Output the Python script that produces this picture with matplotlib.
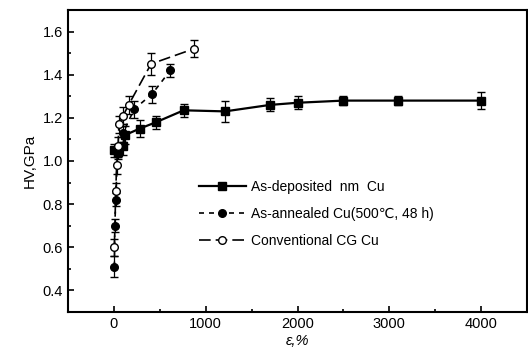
import matplotlib
matplotlib.use("Agg")
import matplotlib.pyplot as plt
from matplotlib.ticker import MultipleLocator

plt.rcParams["font.family"] = ["Liberation Sans", "DejaVu Sans"]

# As-deposited nm Cu
dep_x = [0, 50, 100, 120, 280, 460, 760, 1210, 1700, 2000, 2500, 3100, 4000]
dep_y = [1.05, 1.04, 1.07, 1.12, 1.15, 1.18, 1.235, 1.23, 1.26, 1.27, 1.28, 1.28, 1.28]
dep_err = [0.03, 0.03, 0.04, 0.04, 0.04, 0.03, 0.03, 0.05, 0.03, 0.03, 0.02, 0.02, 0.04]

# As-annealed Cu (500C, 48 h)
ann_x = [5, 10, 20, 40, 100, 220, 415, 615]
ann_y = [0.51, 0.70, 0.82, 1.05, 1.13, 1.24, 1.31, 1.42]
ann_err = [0.05, 0.03, 0.03, 0.03, 0.04, 0.04, 0.04, 0.03]

# Conventional CG Cu
cg_x = [5, 20, 30, 45, 55, 100, 160, 405, 870]
cg_y = [0.60, 0.86, 0.98, 1.07, 1.17, 1.21, 1.26, 1.45, 1.52]
cg_err = [0.04, 0.04, 0.04, 0.04, 0.04, 0.04, 0.04, 0.05, 0.04]

fig = plt.figure(figsize=(5.28, 3.62), dpi=100)
ax = fig.add_axes([68 / 528, 50 / 362, 459 / 528, 302 / 362])

e1 = ax.errorbar(dep_x, dep_y, yerr=dep_err, color="black", lw=1.6, marker="s", ms=5.5,
                 capsize=3, elinewidth=0.9)
e2 = ax.errorbar(ann_x, ann_y, yerr=ann_err, color="black", lw=1.2, ls=(0, (3, 3)),
                 marker="o", ms=5.5, capsize=3, elinewidth=0.9)
e3 = ax.errorbar(cg_x, cg_y, yerr=cg_err, color="black", lw=1.2, ls=(0, (7, 3)),
                 marker="o", ms=5.5, mfc="white", capsize=3, elinewidth=0.9)

ax.set_xlim(-500, 4500)
ax.set_ylim(0.3, 1.7)
ax.xaxis.set_major_locator(MultipleLocator(1000))
ax.xaxis.set_minor_locator(MultipleLocator(500))
ax.yaxis.set_major_locator(MultipleLocator(0.2))
ax.yaxis.set_minor_locator(MultipleLocator(0.1))
ax.tick_params(which="both", direction="in", labelsize=10.5, width=1.2)
ax.tick_params(which="major", length=4)
ax.tick_params(which="minor", length=2.5)
for s in ax.spines.values():
    s.set_linewidth(1.5)

ax.set_xlabel("\u03b5,%", style="italic", fontsize=10.5, labelpad=2)
ax.set_ylabel("HV,GPa", fontsize=11, labelpad=4)

# legend shows only the line + marker, no error bars
ax.legend([e1[0], e2[0], e3[0]],
          ["As-deposited  nm  Cu", "As-annealed Cu(500\u2103, 48 h)", "Conventional CG Cu"],
          loc="upper left", bbox_to_anchor=(0.27, 0.46), frameon=False,
          fontsize=10, handlelength=3.4, labelspacing=0.93, handletextpad=0.35,
          borderpad=0)

fig.savefig("out.png", dpi=100)
